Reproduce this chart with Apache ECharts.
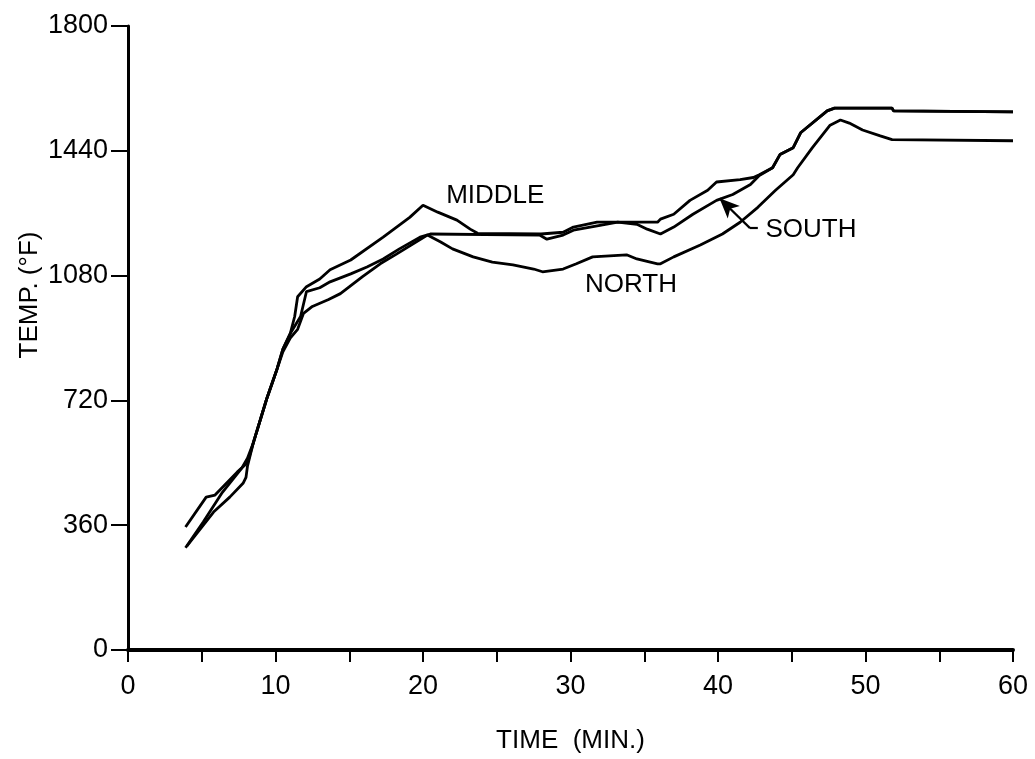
<!DOCTYPE html>
<html>
<head>
<meta charset="utf-8">
<script src="https://cdn.jsdelivr.net/npm/echarts@6/dist/echarts.min.js"></script>
<style>
html,body{margin:0;padding:0;background:#fff;}
#chart{width:1035px;height:759px;}
</style>
</head>
<body>
<div id="chart"></div>
<script>
// ---- data (time in minutes, temperature in °F) ----
const middle = [
  [3.9,295],[5.1,369],[6.4,455],[7.7,524],[8.1,553],[8.5,598],[9.4,724],[10.1,810],[10.5,868],
  [11.0,913],[11.3,962],[11.5,1019],[12.1,1048],[13.0,1070],[13.7,1097],[15.1,1125],[17.3,1191],
  [19.1,1248],[20.0,1283],[21.0,1263],[22.3,1240],[23.2,1214],[23.7,1202],[28.0,1200],[29.5,1205],
  [30.2,1220],[31.8,1234],[35.9,1234],[36.1,1243],[37.0,1257],[38.1,1297],[39.3,1326],[39.9,1350],
  [41.5,1357],[42.4,1363],[42.8,1371],[43.7,1391],[44.2,1429],[45.1,1449],[45.6,1492],[47.4,1555],
  [47.9,1563],[51.8,1563],[51.9,1555],[60,1552]
];
const south = [
  [3.9,355],[5.3,441],[5.9,447],[7.4,513],[8.1,540],[8.5,598],[9.4,724],[10.1,810],[10.5,868],
  [11.0,913],[11.7,962],[12.1,1034],[13.0,1045],[13.7,1062],[15.1,1085],[16.2,1105],[17.3,1128],
  [18.4,1157],[19.8,1191],[20.5,1200],[27.9,1197],[28.4,1185],[29.5,1197],[30.2,1211],[32.0,1225],
  [33.2,1234],[34.5,1228],[35.2,1214],[36.1,1200],[37.0,1220],[38.3,1257],[39.9,1297],[41.0,1314],
  [42.2,1343],[42.8,1369],[43.7,1391],[44.2,1429],[45.1,1449],[45.6,1492],[47.4,1555],[47.9,1563],
  [51.8,1563],[51.9,1555],[60,1552]
];
const north = [
  [4.0,300],[5.8,398],[6.9,441],[7.8,481],[8.0,498],[8.1,530],[8.5,598],[9.4,724],[10.1,810],
  [10.5,860],[11.0,900],[11.5,925],[11.9,971],[12.5,991],[13.6,1011],[14.4,1028],[15.9,1077],
  [17.1,1114],[18.2,1142],[20.3,1197],[21.2,1177],[22.0,1157],[23.4,1134],[24.7,1119],[26.1,1111],
  [27.5,1099],[28.1,1091],[29.5,1099],[30.4,1114],[31.5,1134],[33.8,1140],[34.5,1128],[35.9,1114],
  [36.1,1114],[37.0,1134],[38.8,1168],[40.3,1200],[41.5,1234],[42.7,1277],[43.9,1326],[45.1,1371],
  [45.4,1391],[46.4,1449],[47.6,1514],[48.3,1529],[48.9,1520],[49.8,1500],[51.0,1483],[51.8,1472],
  [60,1469]
];
const xTicks = [0,10,20,30,40,50,60];
const yTicks = [0,360,720,1080,1440,1800];
// annotation anchors (data coordinates)
const labelMiddle = [24.9, 1311];
const labelNorth = [34.1, 1054];
const labelSouth = [46.3, 1211];
const arrowPath = [[42.7,1217],[42.17,1217],[40.1,1303]];

const FONT = '"Liberation Sans", Arial, sans-serif';
const chart = echarts.init(document.getElementById('chart'), null, {renderer:'canvas'});

function lineSeries(name, data, extra){
  return Object.assign({
    name, type:'line', data, symbol:'none', smooth:false,
    lineStyle:{color:'#000', width:2.8}, itemStyle:{color:'#000'},
    animation:false, silent:true, z:3
  }, extra||{});
}
function textPoint(coord, text){
  return {coord, symbol:'circle', symbolSize:1, itemStyle:{color:'rgba(0,0,0,0)'},
    label:{show:true, position:'inside', formatter:text, color:'#000', fontSize:26, fontFamily:FONT}};
}

chart.setOption({
  backgroundColor:'#fff',
  animation:false,
  grid:{left:128, right:22, top:26, bottom:103},
  xAxis:{
    type:'value', min:0, max:60, interval:5,
    name:'TIME  (MIN.)', nameLocation:'middle', nameGap:78,
    nameTextStyle:{color:'#000', fontSize:26, fontFamily:FONT},
    axisLine:{show:true, onZero:false, lineStyle:{color:'#000', width:4}},
    axisTick:{show:true, length:12, lineStyle:{color:'#000', width:2}},
    axisLabel:{color:'#000', fontSize:27, fontFamily:FONT, margin:23,
      formatter:v => xTicks.indexOf(v) >= 0 ? String(v) : ''},
    splitLine:{show:false}
  },
  yAxis:{
    type:'value', min:0, max:1800, interval:360,
    axisLine:{show:true, onZero:false, lineStyle:{color:'#000', width:3}},
    axisTick:{show:true, length:17, lineStyle:{color:'#000', width:2}},
    axisLabel:{color:'#000', fontSize:27, fontFamily:FONT, margin:20,
      formatter:v => yTicks.indexOf(v) >= 0 ? String(v) : ''},
    splitLine:{show:false}
  },
  graphic:[{
    type:'text', x:30, y:295, rotation:Math.PI/2,
    style:{text:'TEMP. (°F)', fill:'#000', font:'26px ' + FONT, textAlign:'center', textVerticalAlign:'middle'}
  }],
  series:[
    lineSeries('NORTH', north, {
      markPoint:{silent:true, animation:false, data:[textPoint(labelNorth,'NORTH')]}
    }),
    lineSeries('SOUTH', south, {
      markPoint:{silent:true, animation:false, data:[textPoint(labelSouth,'SOUTH')]},
      markLine:{silent:true, animation:false, symbol:['none','none'],
        lineStyle:{color:'#000', width:2.2, type:'solid'}, label:{show:false},
        data:[
          [{coord:arrowPath[0]},{coord:arrowPath[1]}],
          [{coord:arrowPath[1]},{coord:arrowPath[2], symbol:'arrow', symbolSize:[13,20]}]
        ]}
    }),
    lineSeries('MIDDLE', middle, {
      markPoint:{silent:true, animation:false, data:[textPoint(labelMiddle,'MIDDLE')]}
    })
  ]
});
</script>
</body>
</html>
